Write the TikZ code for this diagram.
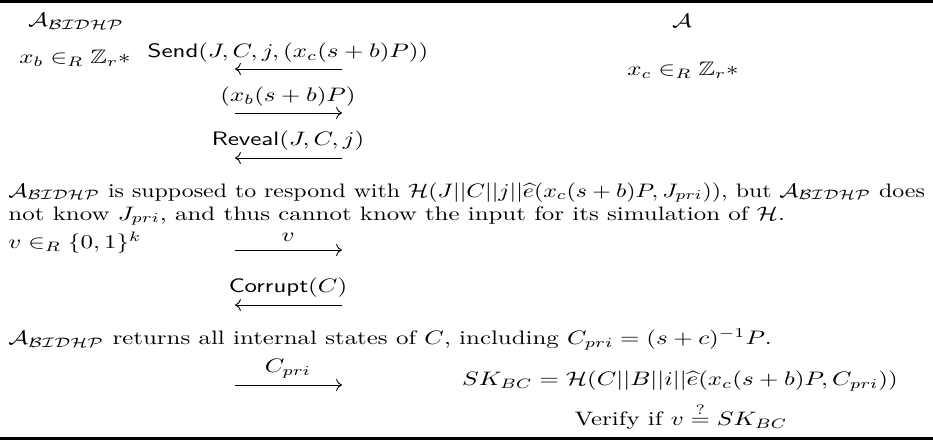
\documentclass[tikz,border=0pt]{standalone}
\usepackage{amsmath,amssymb,graphicx}
\usetikzlibrary{arrows.meta}
\newcommand{\advB}{\mathcal{A}_{\mathcal{BIDHP}}}
\tikzset{
  txt/.style={xscale=1.277,inner sep=0pt},
  msg/.style={line width=0.45pt,-{Computer Modern Rightarrow[length=3pt]}},
  rulebar/.style={line width=1.6pt}
}

\begin{document}
\begin{tikzpicture}[x=0.5128pt,y=-0.5128pt]
  \useasboundingbox (0,0) rectangle (933,440);
  \def\la{235}
  \def\lb{342}
  \def\mid{288}
  %Rules
  \coordinate (t1) at (0,1.5);
  \coordinate (t2) at (933,1.5);
  \coordinate (b1) at (0,438.5);
  \coordinate (b2) at (933,438.5);
  \draw[rulebar] (t1) -- (t2);
  \draw[rulebar] (b1) -- (b2);
  %Parties
  \node[txt] (advB) at (76,21) {$\advB$};
  \node[txt] (advA) at (682,21) {$\mathcal{A}$};
  \node[txt] (xb) at (75,58) {$x_b \in_R \mathbb{Z}_r*$};
  \node[txt] (xc) at (683,70) {$x_c \in_R \mathbb{Z}_r*$};
  %Send
  \node[txt] (send) at (\mid,53) {\textsf{Send}$(J, C, j, (x_c(s+b)P))$};
  \coordinate (m1a) at (\la,69);
  \coordinate (m1b) at (\lb,69);
  \draw[msg] (m1b) -- (m1a);
  %Response
  \node[txt] (resp) at (\mid,97) {$(x_b(s+b)P)$};
  \coordinate (m2a) at (\la,113);
  \coordinate (m2b) at (\lb,113);
  \draw[msg] (m2a) -- (m2b);
  %Reveal
  \node[txt] (reveal) at (\mid,141) {\textsf{Reveal}$(J, C, j)$};
  \coordinate (m3a) at (\la,158);
  \coordinate (m3b) at (\lb,158);
  \draw[msg] (m3b) -- (m3a);
  %Remark
  \node[txt,anchor=base west] (note1a) at (8,197)
    {\resizebox{368pt}{\height}{$\advB$ is supposed to respond with $\mathcal{H}(J||C||j||\widehat{e}(x_c(s+b)P, J_{pri}))$, but $\advB$ does}};
  \node[txt,anchor=base west] (note1b) at (8,220)
    {not know $J_{pri}$, and thus cannot know the input for its simulation of $\mathcal{H}$.};
  %Guess
  \node[txt,anchor=west] (vpick) at (8,243) {$v \in_R \{0,1\}^k$};
  \node[txt] (vlab) at (\mid,237) {$v$};
  \coordinate (m4a) at (\la,250);
  \coordinate (m4b) at (\lb,250);
  \draw[msg] (m4a) -- (m4b);
  %Corrupt
  \node[txt] (corrupt) at (\mid,288) {\textsf{Corrupt}$(C)$};
  \coordinate (m5a) at (\la,305);
  \coordinate (m5b) at (\lb,305);
  \draw[msg] (m5b) -- (m5a);
  \node[txt,anchor=west] (note2) at (8,339)
    {$\advB$ returns all internal states of $C$, including $C_{pri} = (s+c)^{-1}P$.};
  %Key
  \node[txt] (cpri) at (\mid,369) {$C_{pri}$};
  \coordinate (m6a) at (\la,385);
  \coordinate (m6b) at (\lb,385);
  \draw[msg] (m6a) -- (m6b);
  \node[txt] (skbc) at (680,381) {$SK_{BC} = \mathcal{H}(C||B||i||\widehat{e}(x_c(s+b)P, C_{pri}))$};
  \node[txt] (verify) at (681,416) {Verify if $v \stackrel{?}{=} SK_{BC}$};
\end{tikzpicture}
\end{document}
